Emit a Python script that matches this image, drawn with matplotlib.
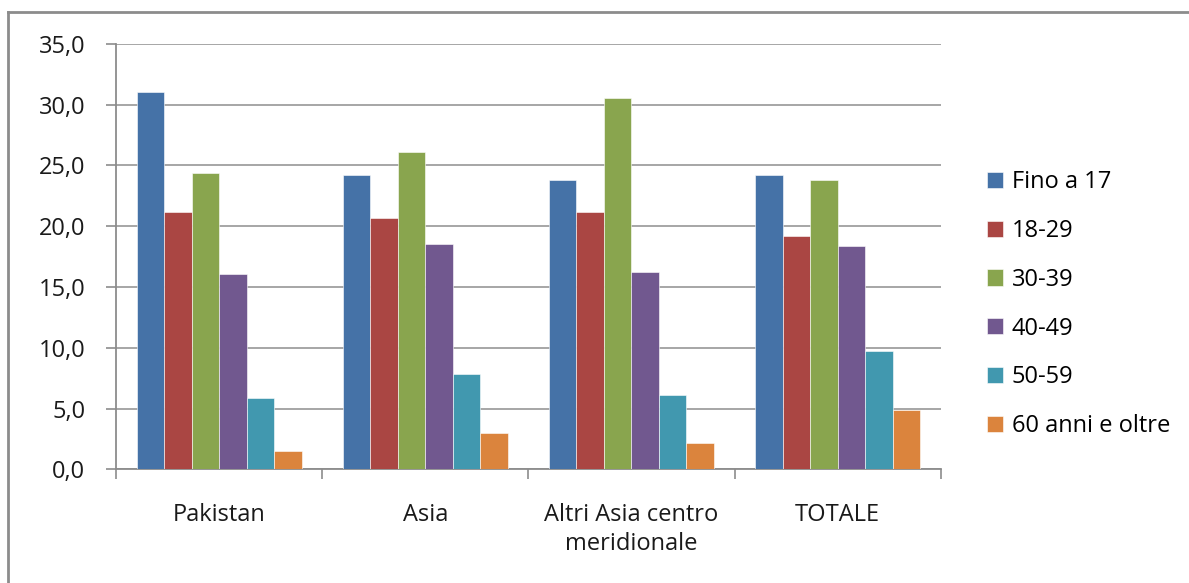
import numpy as np
import matplotlib
matplotlib.use("Agg")
import matplotlib.pyplot as plt
from matplotlib.ticker import FuncFormatter, FixedLocator
from matplotlib.lines import Line2D

plt.rcParams["font.family"] = ["Open Sans", "DejaVu Sans"]

categories = ["Pakistan", "Asia", "Altri Asia centro\nmeridionale", "TOTALE"]
series_names = ["Fino a 17", "18-29", "30-39", "40-49", "50-59", "60 anni e oltre"]
fino_17 = [31.0, 24.2, 23.8, 24.2]
eta_18_29 = [21.2, 20.7, 21.2, 19.2]
eta_30_39 = [24.4, 26.1, 30.5, 23.8]
eta_40_49 = [16.1, 18.5, 16.2, 18.4]
eta_50_59 = [5.9, 7.8, 6.1, 9.7]
oltre_60 = [1.5, 3.0, 2.2, 4.9]
y_ticks = [0, 5, 10, 15, 20, 25, 30, 35]

colors = ["#4572A7", "#AA4643", "#89A54E", "#71588F", "#4198AF", "#DB843D"]
series = [fino_17, eta_18_29, eta_30_39, eta_40_49, eta_50_59, oltre_60]
fs = 17

fig = plt.figure(figsize=(11.89, 5.83), dpi=100)
ax = fig.add_axes([0.0976, 0.195, 0.6936, 0.730])

x = np.arange(len(categories))
group_w = 0.8
bar_w = group_w / len(series)
for i, (vals, name, c) in enumerate(zip(series, series_names, colors)):
    offs = -group_w / 2 + bar_w * (i + 0.5)
    ax.bar(x + offs, vals, width=bar_w, color=c, label=name,
           edgecolor="white", linewidth=0.4, zorder=3)

ax.set_xlim(-0.5, len(categories) - 0.5)
ax.set_ylim(0, 35)
ax.set_yticks(y_ticks)
ax.yaxis.set_major_formatter(FuncFormatter(lambda v, p: f"{v:.1f}".replace(".", ",")))
ax.grid(axis="y", color="#A6A6A6", linewidth=1.4, zorder=0)

ax.set_xticks(x)
ax.set_xticklabels(categories, fontsize=fs, color="#1a1a1a", linespacing=1.3)
ax.xaxis.set_minor_locator(FixedLocator(np.arange(-0.5, len(categories), 1.0)))
ax.tick_params(axis="x", which="major", length=0, pad=24)
ax.tick_params(axis="x", which="minor", length=7, width=1.2, color="#8C8C8C", direction="out")
ax.tick_params(axis="y", length=7, width=1.2, color="#8C8C8C", labelsize=fs,
               labelcolor="#1a1a1a", pad=15)

for side in ["top", "right"]:
    ax.spines[side].set_visible(False)
for side in ["left", "bottom"]:
    ax.spines[side].set_color("#8C8C8C")
    ax.spines[side].set_linewidth(1.3)

ax.legend(loc="upper left", bbox_to_anchor=(1.045, 0.725), frameon=False,
          fontsize=fs, handlelength=0.68, handleheight=0.68, handletextpad=0.35,
          labelspacing=1.05, borderaxespad=0)

# outer chart frame
fig.add_artist(Line2D([8 / 1189, 1.0], [1 - 12 / 583] * 2, transform=fig.transFigure,
                      color="#8C8C8C", linewidth=2))
fig.add_artist(Line2D([8 / 1189] * 2, [0, 1 - 12 / 583], transform=fig.transFigure,
                      color="#8C8C8C", linewidth=2))

fig.savefig("out.png", dpi=100)
